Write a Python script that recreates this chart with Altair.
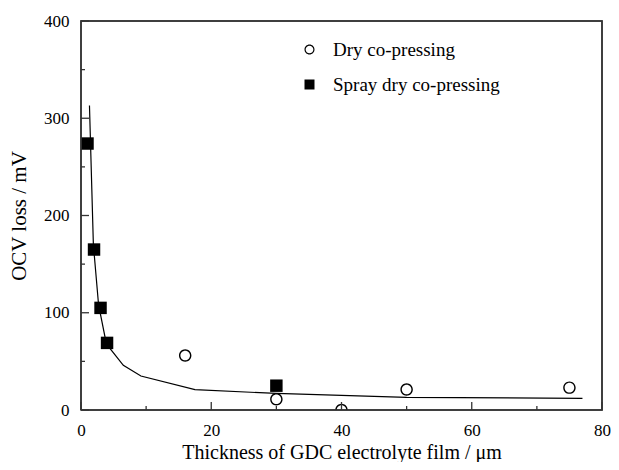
import altair as alt
import pandas as pd

# ---- data ----
series_names = ["Dry co-pressing", "Spray dry co-pressing"]
dry_x = [16, 30, 40, 50, 75]
dry_y = [56, 11, 0, 21, 23]
spray_x = [1, 2, 3, 4, 30]
spray_y = [274, 165, 105, 69, 25]
fit_x = [1.3, 1.9, 2.7, 3.9, 6.5, 9.2, 17.5, 30, 50, 77]
fit_y = [313, 170, 108, 68, 46, 35, 21, 17, 13, 12]
x_domain = [0, 80]
y_domain = [0, 400]
x_major = [0, 20, 40, 60, 80]
x_minor = [10, 30, 50, 70]
y_major = [0, 100, 200, 300, 400]
y_minor = [50, 150, 250, 350]

SERIF = "Liberation Serif"
FRAME = "#333333"
W, H = 521, 389

pts = pd.DataFrame({
    "x": dry_x + spray_x,
    "y": dry_y + spray_y,
    "series": [series_names[0]] * len(dry_x) + [series_names[1]] * len(spray_x),
})
fit = pd.DataFrame({"x": fit_x, "y": fit_y})

# plot frame along the scale domain
frame = pd.DataFrame({
    "x": [x_domain[0], x_domain[1], x_domain[1], x_domain[0], x_domain[0]],
    "y": [y_domain[0], y_domain[0], y_domain[1], y_domain[1], y_domain[0]],
    "i": [0, 1, 2, 3, 4],
})

# inward ticks: lengths in pixels converted to data units
px_y = (y_domain[1] - y_domain[0]) / H
px_x = (x_domain[1] - x_domain[0]) / W
rows = []
for vals, ln, tag in [(x_major, 8, "xM"), (x_minor, 4, "xm")]:
    for v in vals:
        rows += [{"id": f"{tag}{v}", "x": v, "y": y_domain[0]},
                 {"id": f"{tag}{v}", "x": v, "y": y_domain[0] + ln * px_y}]
for vals, ln, tag in [(y_major, 8, "yM"), (y_minor, 4, "ym")]:
    for v in vals:
        rows += [{"id": f"{tag}{v}", "x": x_domain[0], "y": v},
                 {"id": f"{tag}{v}", "x": x_domain[0] + ln * px_x, "y": v}]
ticks = pd.DataFrame(rows)

xs = alt.Scale(domain=x_domain, nice=False)
ys = alt.Scale(domain=y_domain, nice=False)

x_axis = alt.Axis(
    values=x_major, ticks=False, domain=False, grid=False,
    labelPadding=12, labelFontSize=17, labelFont=SERIF, labelColor="black",
    labelFlush=False,
    title="Thickness of GDC electrolyte film / μm", titleFont=SERIF,
    titleFontSize=20, titleFontWeight="normal", titleColor="black",
    titleX=W / 2, titleY=48, titleBaseline="alphabetic", titleAlign="center",
)
y_axis = alt.Axis(
    values=y_major, ticks=False, domain=False, grid=False,
    labelPadding=12, labelFontSize=17, labelFont=SERIF, labelColor="black",
    labelFlush=False,
    title="OCV loss / mV", titleFont=SERIF, titleFontSize=21,
    titleFontWeight="normal", titleColor="black",
    titleX=-56, titleY=H / 2, titleBaseline="alphabetic", titleAlign="center", titleAngle=270,
)
X = alt.X("x:Q", scale=xs, axis=x_axis)
Y = alt.Y("y:Q", scale=ys, axis=y_axis)

# open circle drawn as a ring so it needs no stroke
RING = ("M-1,0A1,1,0,1,1,1,0A1,1,0,1,1,-1,0Z"
        "M-0.77,0A0.77,0.77,0,1,0,0.77,0A0.77,0.77,0,1,0,-0.77,0Z")

legend_cfg = dict(
    title=None, orient="none", legendX=219, legendY=19, padding=0,
    labelFont=SERIF, labelFontSize=19, labelColor="black", labelLimit=400,
    labelOffset=14, rowPadding=15, symbolSize=100,
)

line = alt.Chart(fit).mark_line(color="black", strokeWidth=1.2).encode(x=X, y=Y)

points = alt.Chart(pts).mark_point(filled=True, color="black", opacity=1, size=155, clip=True).encode(
    x=X,
    y=Y,
    shape=alt.Shape("series:N", scale=alt.Scale(domain=series_names, range=[RING, "square"]),
                    legend=alt.Legend(**legend_cfg)),
)

frame_layer = alt.Chart(frame).mark_line(color=FRAME, strokeWidth=1.5).encode(
    x=X, y=Y, order=alt.Order("i:Q"))

tick_layer = alt.Chart(ticks).mark_line(color=FRAME, strokeWidth=1.3).encode(
    x=X, y=Y, detail="id:N")

chart = alt.layer(line, points, tick_layer, frame_layer).properties(
    width=W, height=H,
    autosize=alt.AutoSizeParams(type="none"),
    padding={"left": 73, "top": 13, "right": 9, "bottom": 52},
    background="white",
).configure_view(
    stroke=FRAME, strokeWidth=1.5
)

chart.save("out.html", embed_options={"renderer": "svg", "actions": False})
